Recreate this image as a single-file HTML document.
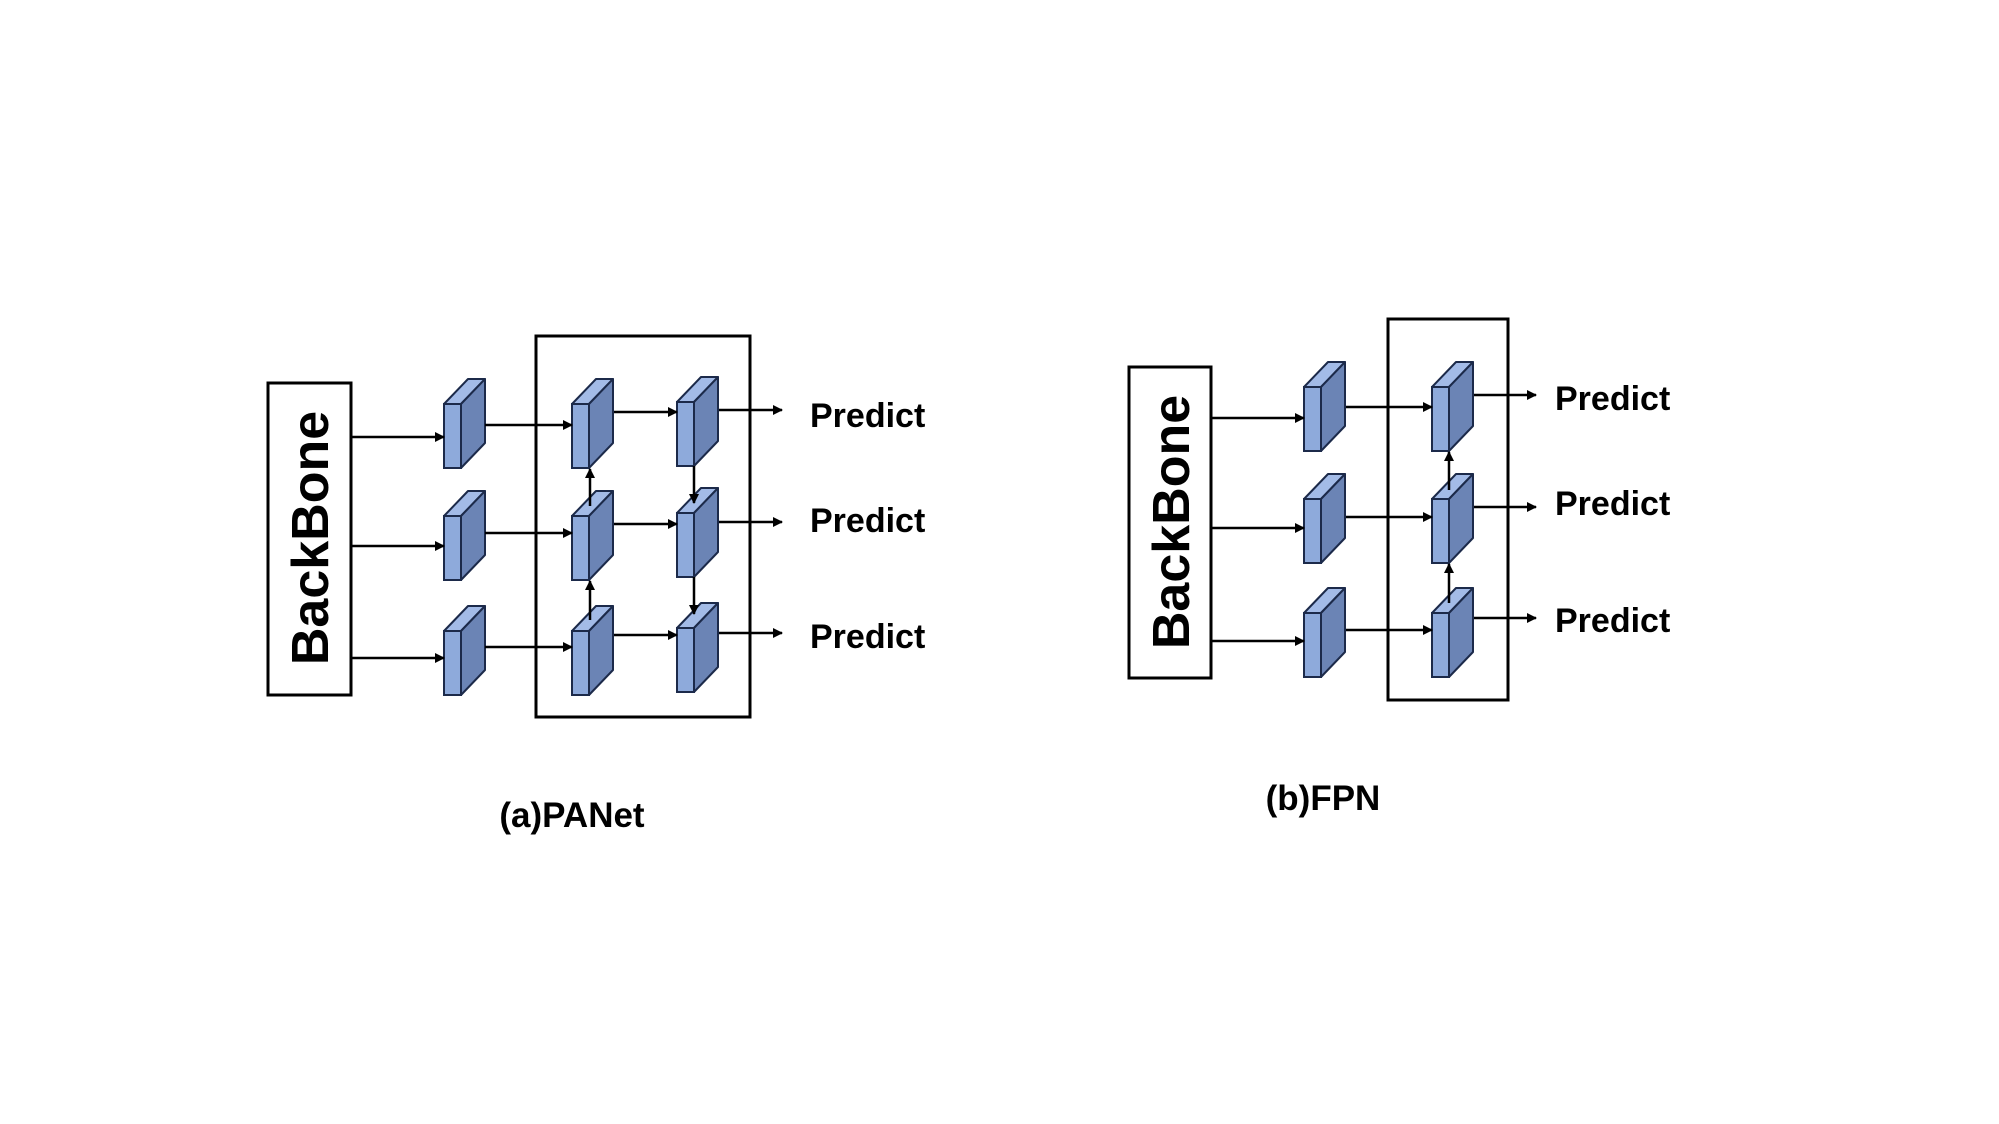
<!DOCTYPE html>
<html><head><meta charset="utf-8"><style>
html,body{margin:0;padding:0;background:#fff;}
svg{display:block;}
text{font-family:"Liberation Sans","Noto Sans CJK SC",sans-serif;font-weight:bold;fill:#000;}
</style></head><body>
<svg width="1999" height="1124" viewBox="0 0 1999 1124" xmlns="http://www.w3.org/2000/svg">
<defs>
<marker id="ah" markerWidth="10" markerHeight="10" refX="9" refY="5" orient="auto" markerUnits="userSpaceOnUse">
<path d="M0,0 L10,5 L0,10 z" fill="#000"/>
</marker>
<g id="cube">
<polygon points="0,0 17,0 41,-25 24,-25" fill="#a3bbe7" stroke="#1c2a4a" stroke-width="2" stroke-linejoin="round"/>
<polygon points="17,0 41,-25 41,39 17,64" fill="#6b84b5" stroke="#1c2a4a" stroke-width="2" stroke-linejoin="round"/>
<rect x="0" y="0" width="17" height="64" fill="#8eaadb" stroke="#1c2a4a" stroke-width="2"/>
</g>
</defs>
<g fill="none" stroke="#000" stroke-width="2.5">
<!-- PANet boxes -->
<rect x="268" y="383" width="83" height="312" stroke-width="3"/>
<rect x="536" y="336" width="214" height="381" stroke-width="3"/>
<!-- FPN boxes -->
<rect x="1129" y="367" width="82" height="311" stroke-width="3"/>
<rect x="1388" y="319" width="120" height="381" stroke-width="3"/>
</g>
<!-- PANet cubes -->
<use href="#cube" x="444" y="404"/>
<use href="#cube" x="444" y="516"/>
<use href="#cube" x="444" y="631"/>
<use href="#cube" x="572" y="404"/>
<use href="#cube" x="572" y="516"/>
<use href="#cube" x="572" y="631"/>
<use href="#cube" x="677" y="402"/>
<use href="#cube" x="677" y="513"/>
<use href="#cube" x="677" y="628"/>
<!-- FPN cubes -->
<use href="#cube" x="1304" y="387"/>
<use href="#cube" x="1304" y="499"/>
<use href="#cube" x="1304" y="613"/>
<use href="#cube" x="1432" y="387"/>
<use href="#cube" x="1432" y="499"/>
<use href="#cube" x="1432" y="613"/>
<g stroke="#000" stroke-width="2.5" marker-end="url(#ah)">
<!-- PANet arrows -->
<line x1="351" y1="437" x2="444" y2="437"/>
<line x1="351" y1="546" x2="444" y2="546"/>
<line x1="351" y1="658" x2="444" y2="658"/>
<line x1="485" y1="425" x2="572" y2="425"/>
<line x1="485" y1="533" x2="572" y2="533"/>
<line x1="485" y1="647" x2="572" y2="647"/>
<line x1="614" y1="412" x2="677" y2="412"/>
<line x1="614" y1="524" x2="677" y2="524"/>
<line x1="614" y1="635" x2="677" y2="635"/>
<line x1="719" y1="410" x2="782" y2="410"/>
<line x1="719" y1="522" x2="782" y2="522"/>
<line x1="719" y1="633" x2="782" y2="633"/>
<line x1="590" y1="506" x2="590" y2="469"/>
<line x1="590" y1="620" x2="590" y2="581"/>
<line x1="694" y1="466" x2="694" y2="503"/>
<line x1="694" y1="577" x2="694" y2="614"/>
<!-- FPN arrows -->
<line x1="1211" y1="418" x2="1304" y2="418"/>
<line x1="1211" y1="528" x2="1304" y2="528"/>
<line x1="1211" y1="641" x2="1304" y2="641"/>
<line x1="1346" y1="407" x2="1432" y2="407"/>
<line x1="1346" y1="517" x2="1432" y2="517"/>
<line x1="1346" y1="630" x2="1432" y2="630"/>
<line x1="1474" y1="395" x2="1536" y2="395"/>
<line x1="1474" y1="507" x2="1536" y2="507"/>
<line x1="1474" y1="618" x2="1536" y2="618"/>
<line x1="1449" y1="490" x2="1449" y2="452"/>
<line x1="1449" y1="603" x2="1449" y2="564"/>
</g>
<!-- text -->
<text x="311" y="538" font-size="52" text-anchor="middle" dominant-baseline="central" transform="rotate(-90 311 538)">BackBone</text>
<text x="1172" y="522" font-size="52" text-anchor="middle" dominant-baseline="central" transform="rotate(-90 1172 522)">BackBone</text>
<text x="810" y="427" font-size="34">Predict</text>
<text x="810" y="532" font-size="34">Predict</text>
<text x="810" y="648" font-size="34">Predict</text>
<text x="1555" y="410" font-size="34">Predict</text>
<text x="1555" y="515" font-size="34">Predict</text>
<text x="1555" y="632" font-size="34">Predict</text>
<text x="572" y="827" font-size="35" text-anchor="middle">(a)PANet</text>
<text x="1323" y="810" font-size="35" text-anchor="middle">(b)FPN</text>
</svg>
</body></html>
